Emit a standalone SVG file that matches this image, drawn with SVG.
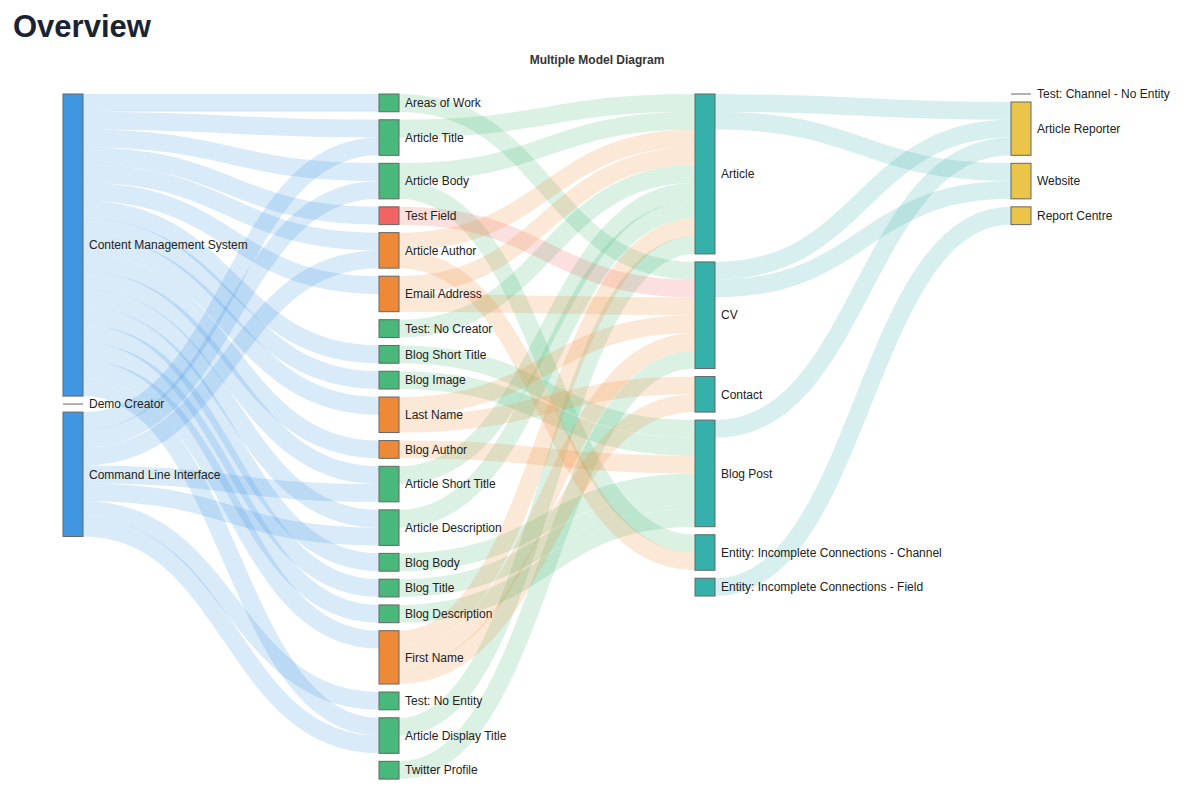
<svg xmlns="http://www.w3.org/2000/svg" width="1185" height="799" viewBox="0 0 1185 799">
<style>
text{font-family:"Liberation Sans",Arial,sans-serif;fill:#222;font-size:12px}
.h1{font-size:31px;font-weight:bold;fill:#1b2333}
.h2{font-size:12px;font-weight:bold;fill:#333}
.l{fill:none;stroke-width:17.77;stroke-opacity:0.2}
.lb{stroke:#4096e0}.lg{stroke:#48b97a}.lo{stroke:#ee8a37}.lr{stroke:#f26363}.lt{stroke:#36b0aa}
.n{stroke:#666;stroke-width:1}
.nb{fill:#4096e0}.ng{fill:#48b97a}.no{fill:#ee8a37}.nr{fill:#f26363}.nt{fill:#36b0aa}.ny{fill:#ebc44a}
.z{stroke:#999;stroke-width:1.5}
</style>
<text class="h1" x="13" y="37">Overview</text>
<text class="h2" x="597" y="64" text-anchor="middle">Multiple Model Diagram</text>
<g id="links">
<g class="l lb">
<path d="M83,102.89C231,102.89 231,102.89 379,102.89"/>
<path d="M83,120.66C231,120.66 231,128.66 379,128.66"/>
<path d="M83,138.43C231,138.43 231,172.2 379,172.2"/>
<path d="M83,156.2C231,156.2 231,215.74 379,215.74"/>
<path d="M83,173.97C231,173.97 231,241.51 379,241.51"/>
<path d="M83,191.74C231,191.74 231,285.05 379,285.05"/>
<path d="M83,209.51C231,209.51 231,354.36 379,354.36"/>
<path d="M83,227.28C231,227.28 231,380.13 379,380.13"/>
<path d="M83,245.05C231,245.05 231,405.9 379,405.9"/>
<path d="M83,262.82C231,262.82 231,449.44 379,449.44"/>
<path d="M83,280.59C231,280.59 231,475.21 379,475.21"/>
<path d="M83,298.36C231,298.36 231,518.75 379,518.75"/>
<path d="M83,316.13C231,316.13 231,562.29 379,562.29"/>
<path d="M83,333.9C231,333.9 231,588.06 379,588.06"/>
<path d="M83,351.67C231,351.67 231,613.83 379,613.83"/>
<path d="M83,369.44C231,369.44 231,639.6 379,639.6"/>
<path d="M83,387.21C231,387.21 231,726.68 379,726.68"/>
<path d="M83,420.98C231,420.98 231,146.43 379,146.43"/>
<path d="M83,438.75C231,438.75 231,189.97 379,189.97"/>
<path d="M83,456.52C231,456.52 231,259.28 379,259.28"/>
<path d="M83,474.29C231,474.29 231,492.98 379,492.98"/>
<path d="M83,492.06C231,492.06 231,536.52 379,536.52"/>
<path d="M83,509.83C231,509.83 231,700.91 379,700.91"/>
<path d="M83,527.6C231,527.6 231,744.45 379,744.45"/>
</g>
<g class="l lg">
<path d="M399,102.89C547,102.89 547,270.82 695,270.82"/>
<path d="M399,128.66C547,128.66 547,102.89 695,102.89"/>
<path d="M399,172.2C547,172.2 547,120.66 695,120.66"/>
<path d="M399,189.97C547,189.97 547,543.6 695,543.6"/>
<path d="M399,328.59C547,328.59 547,173.97 695,173.97"/>
<path d="M399,354.36C547,354.36 547,428.98 695,428.98"/>
<path d="M399,380.13C547,380.13 547,446.75 695,446.75"/>
<path d="M399,475.21C547,475.21 547,191.74 695,191.74"/>
<path d="M399,518.75C547,518.75 547,209.51 695,209.51"/>
<path d="M399,562.29C547,562.29 547,482.29 695,482.29"/>
<path d="M399,588.06C547,588.06 547,500.06 695,500.06"/>
<path d="M399,613.83C547,613.83 547,517.83 695,517.83"/>
<path d="M399,726.68C547,726.68 547,245.05 695,245.05"/>
<path d="M399,770.22C547,770.22 547,359.67 695,359.67"/>
</g>
<g class="l lr">
<path d="M399,215.74C547,215.74 547,288.59 695,288.59"/>
</g>
<g class="l lo">
<path d="M399,241.51C547,241.51 547,138.43 695,138.43"/>
<path d="M399,259.28C547,259.28 547,561.37 695,561.37"/>
<path d="M399,285.05C547,285.05 547,156.2 695,156.2"/>
<path d="M399,302.82C547,302.82 547,306.36 695,306.36"/>
<path d="M399,405.9C547,405.9 547,324.13 695,324.13"/>
<path d="M399,423.67C547,423.67 547,385.44 695,385.44"/>
<path d="M399,449.44C547,449.44 547,464.52 695,464.52"/>
<path d="M399,639.6C547,639.6 547,227.28 695,227.28"/>
<path d="M399,657.37C547,657.37 547,341.9 695,341.9"/>
<path d="M399,675.14C547,675.14 547,403.21 695,403.21"/>
</g>
<g class="l lt">
<path d="M715,102.89C863,102.89 863,110.89 1011,110.89"/>
<path d="M715,120.66C863,120.66 863,172.2 1011,172.2"/>
<path d="M715,270.82C863,270.82 863,128.66 1011,128.66"/>
<path d="M715,288.59C863,288.59 863,189.97 1011,189.97"/>
<path d="M715,428.98C863,428.98 863,146.43 1011,146.43"/>
<path d="M715,587.14C863,587.14 863,215.74 1011,215.74"/>
</g>
</g>
<g id="n-cms"><rect class="n nb" x="63" y="94" width="20" height="302.09"/><text x="89" y="249.2">Content Management System</text></g>
<g id="n-demo"><line class="z" x1="63" y1="404.09" x2="83" y2="404.09"/><text x="89" y="408.3">Demo Creator</text></g>
<g id="n-cli"><rect class="n nb" x="63" y="412.09" width="20" height="124.39"/><text x="89" y="478.5">Command Line Interface</text></g>
<g id="n-aow"><rect class="n ng" x="379" y="94" width="20" height="17.77"/><text x="405" y="107.1">Areas of Work</text></g>
<g id="n-at"><rect class="n ng" x="379" y="119.77" width="20" height="35.54"/><text x="405" y="141.7">Article Title</text></g>
<g id="n-ab"><rect class="n ng" x="379" y="163.31" width="20" height="35.54"/><text x="405" y="185.3">Article Body</text></g>
<g id="n-tf"><rect class="n nr" x="379" y="206.85" width="20" height="17.77"/><text x="405" y="219.9">Test Field</text></g>
<g id="n-aa"><rect class="n no" x="379" y="232.62" width="20" height="35.54"/><text x="405" y="254.6">Article Author</text></g>
<g id="n-ea"><rect class="n no" x="379" y="276.16" width="20" height="35.54"/><text x="405" y="298.1">Email Address</text></g>
<g id="n-tnc"><rect class="n ng" x="379" y="319.7" width="20" height="17.77"/><text x="405" y="332.8">Test: No Creator</text></g>
<g id="n-bst"><rect class="n ng" x="379" y="345.47" width="20" height="17.77"/><text x="405" y="358.6">Blog Short Title</text></g>
<g id="n-bi"><rect class="n ng" x="379" y="371.24" width="20" height="17.77"/><text x="405" y="384.3">Blog Image</text></g>
<g id="n-ln"><rect class="n no" x="379" y="397.01" width="20" height="35.54"/><text x="405" y="419">Last Name</text></g>
<g id="n-ba"><rect class="n no" x="379" y="440.55" width="20" height="17.77"/><text x="405" y="453.6">Blog Author</text></g>
<g id="n-ast"><rect class="n ng" x="379" y="466.32" width="20" height="35.54"/><text x="405" y="488.3">Article Short Title</text></g>
<g id="n-ad"><rect class="n ng" x="379" y="509.86" width="20" height="35.54"/><text x="405" y="531.8">Article Description</text></g>
<g id="n-bb"><rect class="n ng" x="379" y="553.4" width="20" height="17.77"/><text x="405" y="566.5">Blog Body</text></g>
<g id="n-bt"><rect class="n ng" x="379" y="579.17" width="20" height="17.77"/><text x="405" y="592.3">Blog Title</text></g>
<g id="n-bd"><rect class="n ng" x="379" y="604.94" width="20" height="17.77"/><text x="405" y="618">Blog Description</text></g>
<g id="n-fn"><rect class="n no" x="379" y="630.71" width="20" height="53.31"/><text x="405" y="661.6">First Name</text></g>
<g id="n-tne"><rect class="n ng" x="379" y="692.02" width="20" height="17.77"/><text x="405" y="705.1">Test: No Entity</text></g>
<g id="n-adt"><rect class="n ng" x="379" y="717.79" width="20" height="35.54"/><text x="405" y="739.8">Article Display Title</text></g>
<g id="n-tp"><rect class="n ng" x="379" y="761.33" width="20" height="17.77"/><text x="405" y="774.4">Twitter Profile</text></g>
<g id="n-article"><rect class="n nt" x="695" y="94" width="20" height="159.93"/><text x="721" y="178.2">Article</text></g>
<g id="n-cv"><rect class="n nt" x="695" y="261.93" width="20" height="106.62"/><text x="721" y="319.4">CV</text></g>
<g id="n-contact"><rect class="n nt" x="695" y="376.55" width="20" height="35.54"/><text x="721" y="398.5">Contact</text></g>
<g id="n-bp"><rect class="n nt" x="695" y="420.09" width="20" height="106.62"/><text x="721" y="477.6">Blog Post</text></g>
<g id="n-ec"><rect class="n nt" x="695" y="534.71" width="20" height="35.54"/><text x="721" y="556.7">Entity: Incomplete Connections - Channel</text></g>
<g id="n-ef"><rect class="n nt" x="695" y="578.25" width="20" height="17.77"/><text x="721" y="591.3">Entity: Incomplete Connections - Field</text></g>
<g id="n-tcne"><line class="z" x1="1011" y1="94" x2="1031" y2="94"/><text x="1037" y="98.2">Test: Channel - No Entity</text></g>
<g id="n-ar"><rect class="n ny" x="1011" y="102" width="20" height="53.31"/><text x="1037" y="132.9">Article Reporter</text></g>
<g id="n-web"><rect class="n ny" x="1011" y="163.31" width="20" height="35.54"/><text x="1037" y="185.3">Website</text></g>
<g id="n-rc"><rect class="n ny" x="1011" y="206.85" width="20" height="17.77"/><text x="1037" y="219.9">Report Centre</text></g>
</svg>
